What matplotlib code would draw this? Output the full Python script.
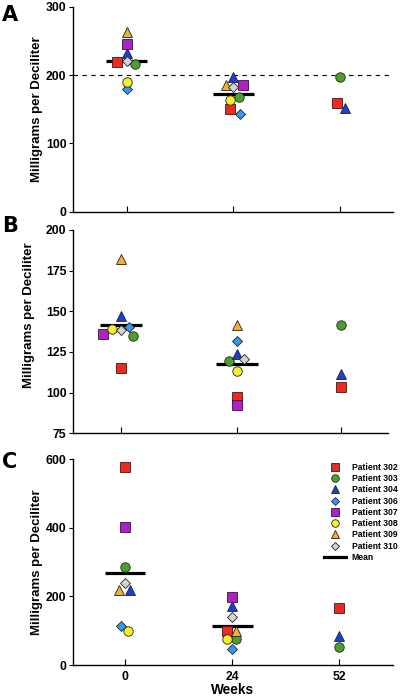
import numpy as np
import matplotlib
matplotlib.use("Agg")
import matplotlib.pyplot as plt
from matplotlib.lines import Line2D

plt.rcParams['font.family'] = ['Liberation Sans', 'DejaVu Sans']
plt.rcParams['font.weight'] = 'bold'

# ---------------- data ----------------
weeks = ['0', '24', '52']
patients = ['Patient 302', 'Patient 303', 'Patient 304', 'Patient 306',
            'Patient 307', 'Patient 308', 'Patient 309', 'Patient 310']
nan = np.nan

# Panel A (order of patients as above)
a_week0 = [219.6, 215.8, 232.0, 179.0, 245.0, 190.0, 262.5, 221.0]
a_week24 = [150.0, 168.4, 197.7, 143.0, 185.5, 163.0, 185.5, 183.0]
a_week52 = [158.7, 197.7, 151.4, nan, nan, nan, nan, nan]

# Panel B
b_week0 = [115.0, 134.8, 147.1, 140.2, 136.0, 139.0, 182.1, 138.5]
b_week24 = [97.5, 119.6, 123.7, 131.9, 92.4, 113.5, 141.6, 120.5]
b_week52 = [103.6, 141.6, 111.3, nan, nan, nan, nan, nan]

# Panel C
c_week0 = [578.5, 286.8, 218.8, 113.8, 401.7, 99.2, 218.8, 240.0]
c_week24 = [100.0, 75.0, 173.0, 45.8, 197.5, 75.0, 99.0, 141.0]
c_week52 = [167.0, 53.4, 85.5, nan, nan, nan, nan, nan]

reference_level = 200

# ---------------- style / layout ----------------
colors = ['#f0281e', '#4da02e', '#1a3fd8', '#3399ee',
          '#b020c8', '#f5f028', '#f0b030', '#d3d3d3']
markers = ['s', 'o', '^', 'D', 's', 'o', '^', 'D']
msizes = [6.5, 6.8, 7.0, 5.0, 6.5, 6.8, 7.0, 5.0]

# horizontal jitter (category units) per week, per patient
jit_a = [[-0.094, 0.078, 0, 0, 0, 0, 0, 0],
         [-0.031, 0.053, 0, 0.063, 0.094, -0.031, -0.068, 0],
         [-0.028, 0, 0.047, 0, 0, 0, 0, 0]]
jit_b = [[0, 0.109, 0, 0.079, -0.164, -0.082, 0, 0],
         [0, -0.073, 0, 0, 0, 0, 0, 0.061],
         [0, 0, 0, 0, 0, 0, 0, 0]]
jit_c = [[0, 0, 0.047, -0.04, 0, 0.031, -0.053, 0],
         [-0.053, 0.04, 0, 0, 0, -0.047, 0.035, 0],
         [0, 0, 0, 0, 0, 0, 0, 0]]

W, H = 400, 698
fig = plt.figure(figsize=(W / 100, H / 100), dpi=100)


def px_axes(left, right, top, bottom):
    return fig.add_axes([left / W, 1 - bottom / H, (right - left) / W, (bottom - top) / H])


panels = [
    dict(ax=px_axes(72.7, 393, 6.7, 211.7), data=[a_week0, a_week24, a_week52], jit=jit_a,
         pos=[0, 1, 2], xlim=(-0.506, 2.496), ylim=(0, 300), yticks=[0, 100, 200, 300],
         letter='A', ly=5, labc=(-0.092, 0.5)),
    dict(ax=px_axes(72.7, 388, 230, 433.3), data=[b_week0, b_week24, b_week52], jit=jit_b,
         pos=[0, 1.06, 2], xlim=(-0.436, 2.43), ylim=(75, 200),
         yticks=[75, 100, 125, 150, 175, 200], letter='B', ly=216, labc=(-0.118, 0.58)),
    dict(ax=px_axes(72.7, 393, 459.3, 665), data=[c_week0, c_week24, c_week52], jit=jit_c,
         pos=[0, 1, 2], xlim=(-0.488, 2.50), ylim=(0, 600), yticks=[0, 200, 400, 600],
         letter='C', ly=452, labc=(-0.092, 0.5)),
]

for p in panels:
    ax = p['ax']
    for s in ['top', 'right']:
        ax.spines[s].set_visible(False)
    for s in ['left', 'bottom']:
        ax.spines[s].set_linewidth(1.0)
    ax.set_xlim(*p['xlim'])
    ax.set_ylim(*p['ylim'])
    ax.set_yticks(p['yticks'])
    ax.set_xticks(p['pos'])
    ax.tick_params(axis='y', direction='out', length=3, width=0.8, pad=1.5, labelsize=8.8)
    ax.tick_params(axis='x', direction='in', length=4, width=0.8, pad=4, labelsize=8.8)
    for lab in ax.get_yticklabels():
        lab.set_fontweight('bold')
    ax.set_ylabel('Milligrams per Deciliter', fontsize=9.5, fontweight='bold')
    ax.yaxis.set_label_coords(*p['labc'])

    # mean bars (weeks 0 and 24)
    for wi in range(2):
        m = np.nanmean(p['data'][wi])
        ax.plot([p['pos'][wi] - 0.19, p['pos'][wi] + 0.19], [m, m], color='black',
                lw=2.3, solid_capstyle='butt', zorder=2)

    for wi in range(3):
        vals = p['data'][wi]
        for pi in range(len(patients)):
            v = vals[pi]
            if np.isnan(v):
                continue
            ax.plot(p['pos'][wi] + p['jit'][wi][pi], v, linestyle='none',
                    marker=markers[pi], markersize=msizes[pi],
                    markerfacecolor=colors[pi], markeredgecolor='#222222',
                    markeredgewidth=0.6, zorder=3 + pi * 0.01, clip_on=False)

    fig.text(2 / W, 1 - p['ly'] / H, p['letter'], fontsize=15, fontweight='heavy',
             family='DejaVu Sans', va='top', ha='left')

axA, axB, axC = panels[0]['ax'], panels[1]['ax'], panels[2]['ax']
axA.axhline(reference_level, color='black', lw=0.8, linestyle=(0, (4, 4)), zorder=1)
axA.set_xticklabels([])
axB.set_xticklabels([])
axC.set_xticklabels(weeks, fontweight='bold', fontsize=8.8)
axC.set_xlabel('Weeks', fontsize=9.8, fontweight='bold', labelpad=0)

# legend
handles = []
for pi, name in enumerate(patients):
    handles.append(Line2D([], [], linestyle='none', marker=markers[pi],
                          markersize=msizes[pi] * 0.8, markerfacecolor=colors[pi],
                          markeredgecolor='#222222', markeredgewidth=0.6, label=name))
handles.append(Line2D([], [], color='black', lw=2.3, label='Mean'))
fig.legend(handles=handles, loc='upper left', bbox_to_anchor=(324 / W, 1 - 463 / H),
           bbox_transform=fig.transFigure, frameon=False, borderpad=0, borderaxespad=0,
           handlelength=2.6, handletextpad=0.6, labelspacing=0.26,
           prop={'weight': 'bold', 'size': 6.2})

fig.savefig('out.png', dpi=100)
